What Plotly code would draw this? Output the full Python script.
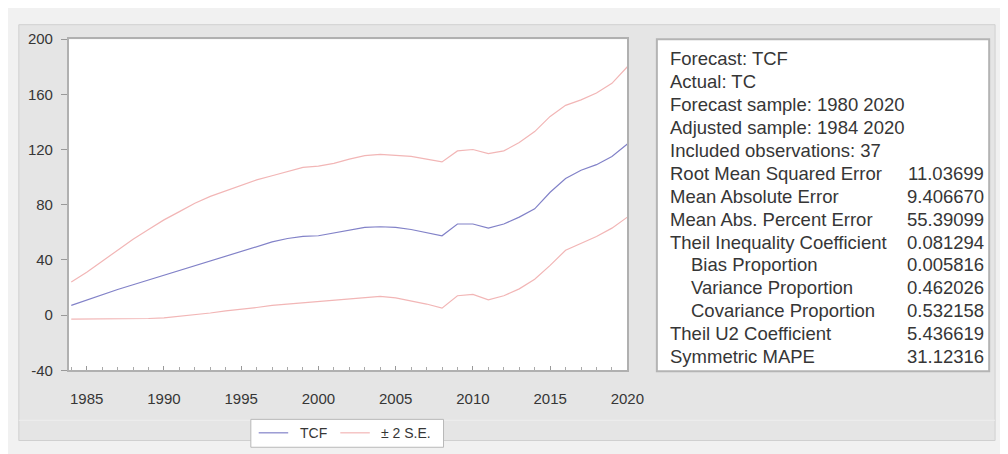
import plotly.graph_objects as go

# ---- data ----
years = list(range(1984, 2021))
tcf = [7, 11, 15, 18.5, 22, 25.5, 29, 32.5, 36, 39.5,
       43, 46.5, 50, 53, 55.5, 57, 57.5, 59.5, 62, 63.5,
       64, 63.5, 62, 60, 57.5, 66, 66, 63, 66, 71,
       77, 89, 99, 105, 109, 115, 124]
upper = [24, 31, 39, 47, 55, 62, 69, 75, 81, 86,
         90, 94, 98, 101, 104, 107, 108, 110, 113, 115.5,
         116.5, 116, 115, 113, 111, 119, 120, 117, 119, 125,
         133, 144, 152, 156, 161, 168, 180]
lower = [-3, -3, -3, -3, -3, -2.5, -2, -1, 0, 1.5,
         3, 4, 5.5, 7, 8, 9, 9.5, 10.5, 12, 13,
         13.5, 12.5, 10.5, 8, 5, 14, 15, 11, 14, 19,
         26, 36, 47, 52, 57, 63, 71]

x_ticks = [1985, 1990, 1995, 2000, 2005, 2010, 2015, 2020]
y_ticks = [-40, 0, 40, 80, 120, 160, 200]

series_names = ["TCF", "± 2 S.E."]
series_colors = ["#8282c8", "#f2b6b6"]

stat_labels = ["Forecast: TCF", "Actual: TC", "Forecast sample: 1980 2020",
               "Adjusted sample: 1984 2020", "Included observations: 37",
               "Root Mean Squared Error", "Mean Absolute Error",
               "Mean Abs. Percent Error", "Theil Inequality Coefficient",
               "Bias Proportion", "Variance Proportion", "Covariance Proportion",
               "Theil U2 Coefficient", "Symmetric MAPE"]
stat_values = ["", "", "", "", "", "11.03699", "9.406670", "55.39099",
               "0.081294", "0.005816", "0.462026", "0.532158", "5.436619", "31.12316"]
stat_indent = [0, 0, 0, 0, 0, 0, 0, 0, 0, 1, 1, 1, 0, 0]

# ---- layout geometry ----
W, H = 1008, 454
PL, PR, PT, PB = 62, 630, 23, 367
FONT = "Liberation Sans, Arial, sans-serif"
TXT = "#363636"

def px(x):
    return x / W

def py(y):
    return 1 - y / H

fig = go.Figure()
fig.add_trace(go.Scatter(x=years, y=tcf, mode="lines", name=series_names[0],
                         line=dict(color=series_colors[0], width=1.2)))
fig.add_trace(go.Scatter(x=years, y=upper, mode="lines", name=series_names[1],
                         line=dict(color=series_colors[1], width=1.2)))
fig.add_trace(go.Scatter(x=years, y=lower, mode="lines", name=series_names[1],
                         line=dict(color=series_colors[1], width=1.2)))

shapes = [
    # panel interior
    dict(type="rect", xref="paper", yref="paper", x0=px(11), x1=px(1004), y0=py(440), y1=py(8),
         fillcolor="#e5e5e5", line=dict(color="#d0d0d0", width=1), layer="below"),
    # faint inner frame line near the bottom
    dict(type="line", xref="paper", yref="paper", x0=px(11), x1=px(1004), y0=py(419), y1=py(419),
         line=dict(color="#eeeeee", width=1), layer="below"),
    # plot area background
    dict(type="rect", xref="paper", yref="paper", x0=px(PL), x1=px(PR), y0=py(PB), y1=py(PT),
         fillcolor="white", line=dict(width=0), layer="below"),
    # stats box
    dict(type="rect", xref="paper", yref="paper", x0=px(660), x1=px(998), y0=py(PB + 1), y1=py(PT),
         fillcolor="white", line=dict(color="#b4b4b4", width=2), layer="below"),
    # legend box
    dict(type="rect", xref="paper", yref="paper", x0=px(247), x1=px(443), y0=py(447), y1=py(418),
         fillcolor="white", line=dict(color="#b8b8b8", width=1), layer="below"),
]

annotations = []
# legend entries
leg_y = 432
for (lx0, lx1, tx), name, col in zip([(255, 285, 295), (338, 368, 377)], series_names, series_colors):
    shapes.append(dict(type="line", xref="paper", yref="paper", x0=px(lx0), x1=px(lx1),
                       y0=py(leg_y), y1=py(leg_y), line=dict(color=col, width=1.2)))
    annotations.append(dict(xref="paper", yref="paper", x=px(tx), y=py(leg_y), text=name,
                            showarrow=False, xanchor="left", yanchor="middle",
                            font=dict(family=FONT, size=14, color=TXT)))

y0, dy = 43, (353 - 43) / 13
for i, (lab, val, ind) in enumerate(zip(stat_labels, stat_values, stat_indent)):
    yy = y0 + i * dy
    annotations.append(dict(xref="paper", yref="paper", x=px(671 + 22 * ind), y=py(yy),
                            text=lab, showarrow=False, xanchor="left", yanchor="middle",
                            font=dict(family=FONT, size=18.5, color=TXT)))
    if val:
        annotations.append(dict(xref="paper", yref="paper", x=px(995), y=py(yy),
                                text=val, showarrow=False, xanchor="right", yanchor="middle",
                                font=dict(family=FONT, size=18.5, color=TXT)))

fig.update_layout(
    width=W, height=H,
    margin=dict(l=0, r=0, t=0, b=0),
    paper_bgcolor="#f1f1f1",
    plot_bgcolor="white",
    font=dict(family=FONT, color=TXT),
    shapes=shapes,
    annotations=annotations,
    showlegend=False,
    xaxis=dict(domain=[px(PL), px(PR)], range=[1983.85, 2020.0],
               tickmode="array", tickvals=x_ticks, ticktext=[str(t) for t in x_ticks],
               ticks="inside", ticklen=4, tickcolor="#999",
               minor=dict(dtick=1, ticks="inside", ticklen=3, tickcolor="#aaa"),
               showline=True, linecolor="#b0b0b0", linewidth=2, mirror=True,
               showgrid=False, zeroline=False, ticklabelstandoff=14,
               tickfont=dict(family=FONT, size=15, color=TXT)),
    yaxis=dict(domain=[py(PB), py(PT)], range=[-40, 200],
               tickmode="array", tickvals=y_ticks, ticktext=[str(t) for t in y_ticks],
               ticks="outside", ticklen=6, tickcolor="#999",
               showline=True, linecolor="#b0b0b0", linewidth=2, mirror=True,
               showgrid=False, zeroline=False, ticklabelstandoff=5,
               tickfont=dict(family=FONT, size=15, color=TXT)),
)

fig.write_html("out.html")
